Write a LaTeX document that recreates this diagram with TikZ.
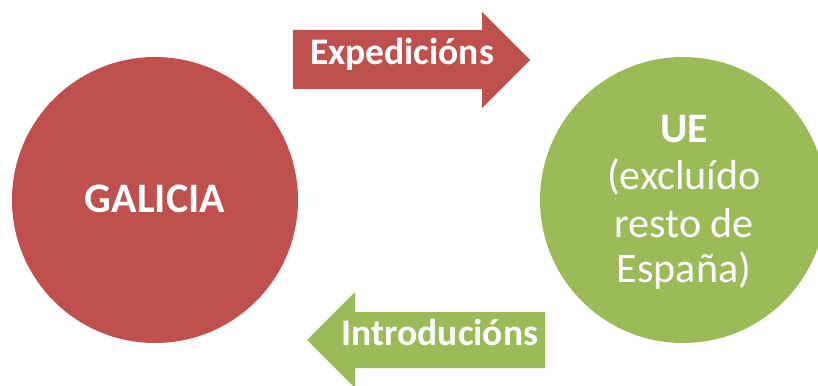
\documentclass[tikz,border=0pt]{standalone}
\usepackage{fontspec}
\setmainfont{Carlito}
\definecolor{redc}{HTML}{C0504D}
\definecolor{greenc}{HTML}{9BBB59}
\begin{document}
\begin{tikzpicture}[x=1pt,y=-1pt,
  txt/.style={text=white, inner sep=0pt, anchor=base},
  big/.style={font=\fontsize{42}{47}\selectfont},
  bigbold/.style={font=\fontsize{42}{47}\selectfont\bfseries},
  arrowtxt/.style={font=\fontsize{37.5}{44}\selectfont\bfseries},
  disc/.style={circle, inner sep=0pt, minimum size=286pt}]
\useasboundingbox (0,0) rectangle (818,385);
\node[disc, fill=redc] (galicia) at (155,200) {};
\node[disc, fill=greenc] (ue) at (683,200) {};
\fill[redc] (293,30) -- (482,30) -- (482,12) -- (530,60) -- (482,108) -- (482,89) -- (293,89) -- cycle;
\fill[greenc] (545,312) -- (355,312) -- (355,292) -- (307,340) -- (355,388) -- (355,368) -- (545,368) -- cycle;
\node[txt, arrowtxt] (exp) at (402,65) {Expedicións};
\node[txt, arrowtxt] (intro) at (440,345) {Introducións};
\node[txt, bigbold] (galt) at (155,212) {GALICIA};
\node[txt, bigbold] (ue1) at (684,142) {UE};
\node[txt, big] (ue2) at (684,189) {(excluído};
\node[txt, big] (ue3) at (684,237) {resto de};
\node[txt, big] (ue4) at (684,282) {España)};
\end{tikzpicture}
\end{document}
